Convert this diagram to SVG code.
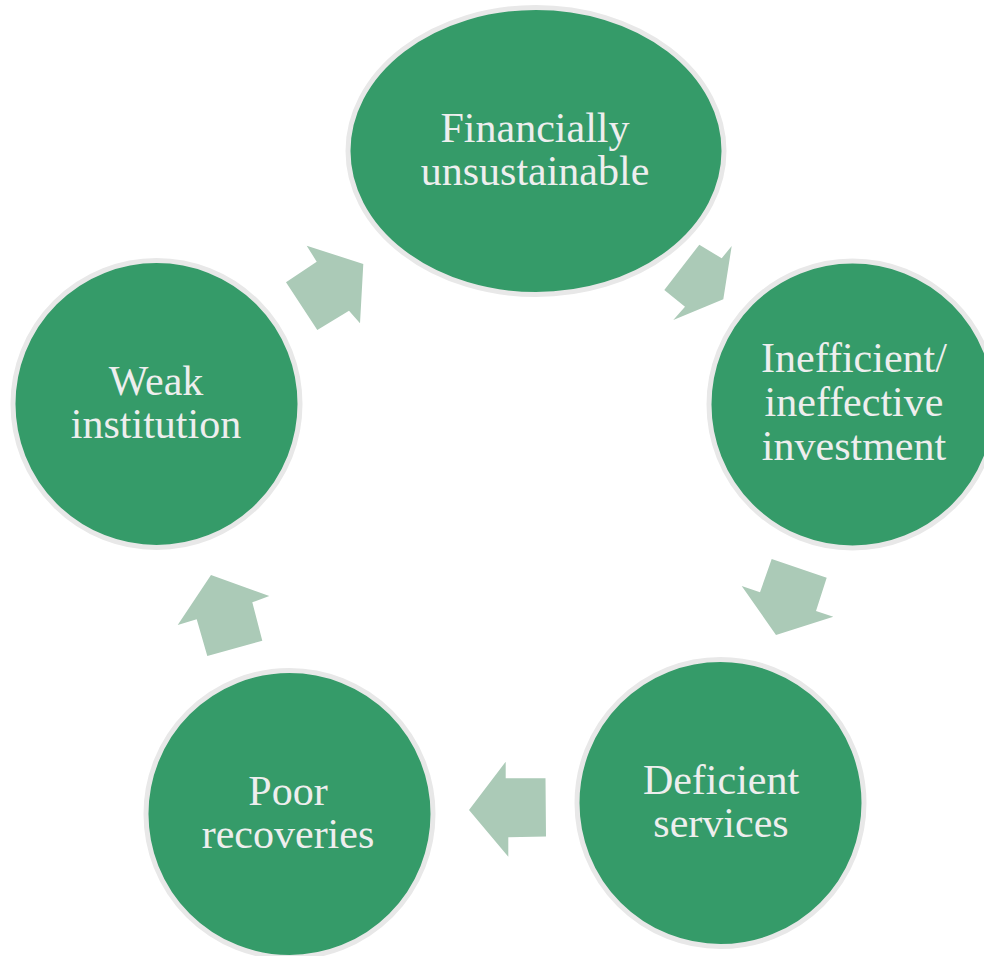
<svg xmlns="http://www.w3.org/2000/svg" width="984" height="956" viewBox="0 0 984 956">
<style>
.node{fill:#359b69;stroke:#e8e8e8;stroke-width:5}
.lbl{font-family:"Liberation Serif","Times New Roman",serif;font-size:42px;fill:#eeeeee;text-anchor:middle}
.arr{fill:#abcab7}
</style>
<rect width="984" height="956" fill="#ffffff"/>
<g id="connectors">
<polygon class="arr" points="363.3,264 306.7,245.7 316.7,261.7 286,282.3 317.3,330 349,310.7 360,323.3"/>
<polygon class="arr" points="723.3,299.3 731.7,246 721.7,258.3 699.3,244.7 664.3,290 685,306.7 673.3,320"/>
<polygon class="arr" points="776,635 833.3,616.7 816,611 826.7,577.7 771.7,559 760,592.3 741.7,586"/>
<polygon class="arr" points="469,810 505.7,761.7 505.7,778.3 545.5,778.3 546,836.5 508.3,837.3 508.3,856.7"/>
<polygon class="arr" points="211,575 269.3,596 252.3,602.3 262.3,640.7 207.3,656 196.7,619.3 177.7,625"/>
</g>
<g id="financially">
<ellipse class="node" cx="536" cy="151" rx="188" ry="143.5"/>
<text class="lbl" x="535" y="142">Financially</text>
<text class="lbl" x="535" y="185">unsustainable</text>
</g>
<g id="inefficient">
<circle class="node" cx="852.5" cy="404.5" r="143.5"/>
<text class="lbl" x="854" y="372">Inefficient/</text>
<text class="lbl" x="854" y="416">ineffective</text>
<text class="lbl" x="854" y="460">investment</text>
</g>
<g id="deficient">
<circle class="node" cx="720.5" cy="803" r="143.5"/>
<text class="lbl" x="721" y="794">Deficient</text>
<text class="lbl" x="721" y="837">services</text>
</g>
<g id="poor">
<circle class="node" cx="289.5" cy="814" r="143.5"/>
<text class="lbl" x="288" y="805">Poor</text>
<text class="lbl" x="288" y="848">recoveries</text>
</g>
<g id="weak">
<circle class="node" cx="156.5" cy="404" r="143.5"/>
<text class="lbl" x="156" y="395">Weak</text>
<text class="lbl" x="156" y="438">institution</text>
</g>
</svg>
